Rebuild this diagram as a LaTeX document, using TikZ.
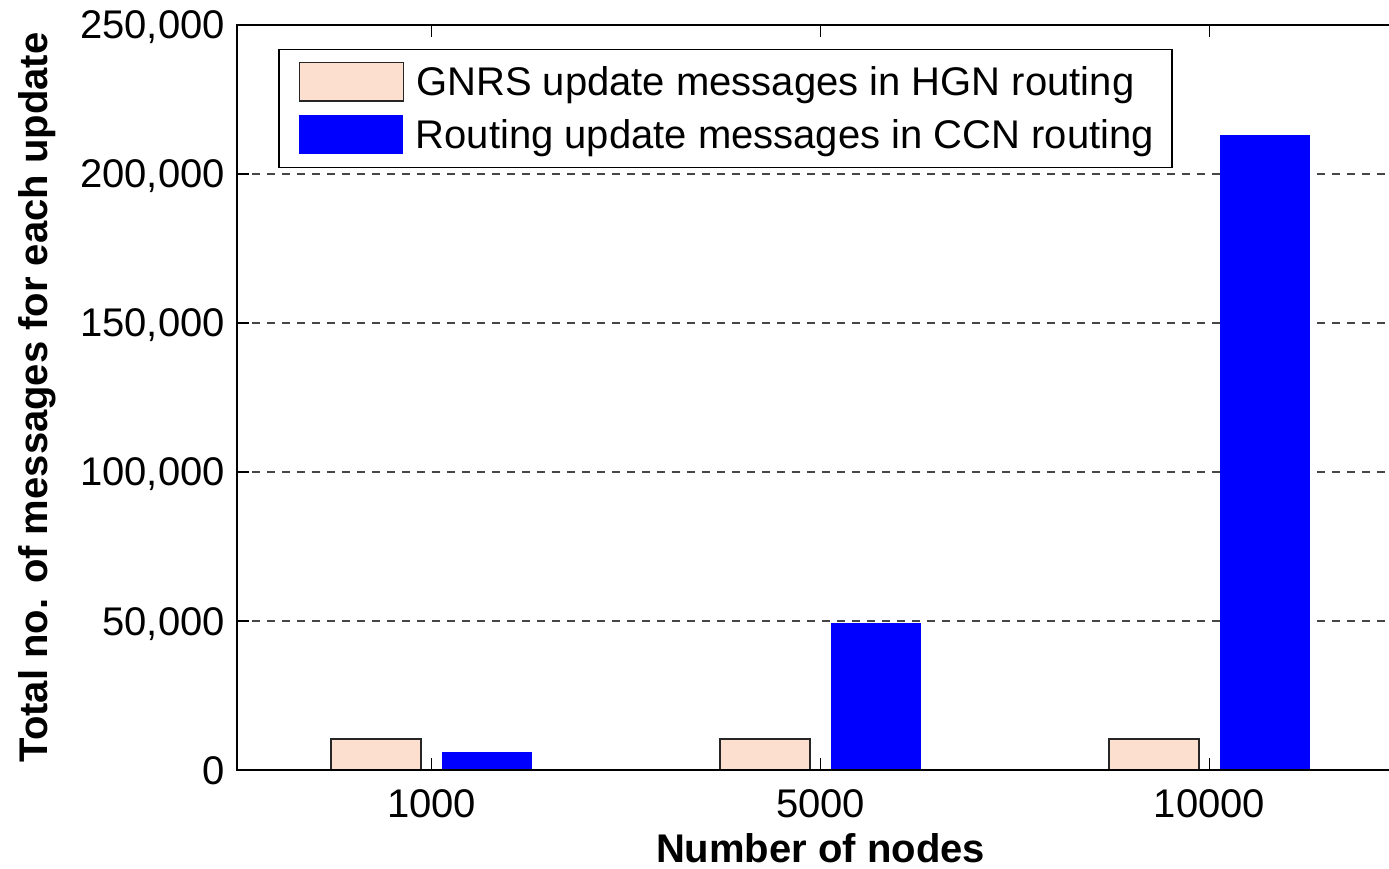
\documentclass[tikz,border=0pt]{standalone}
\usepackage{fontspec}
\setmainfont{Liberation Sans}
\usetikzlibrary{positioning}
\definecolor{peach}{RGB}{252,223,207}
\definecolor{gridgray}{RGB}{70,70,70}
\tikzset{axis line/.style={line width=2pt},
         grid line/.style={gridgray,line width=1.5pt,dash pattern=on 8pt off 7pt},
         tick mark/.style={line width=1.5pt},
         gnrs bar/.style={fill=peach,draw=black!85,line width=1.5pt},
         tick label/.style={font=\fontsize{40}{48}\selectfont,inner sep=0pt},
         axis label/.style={font=\fontsize{40}{48}\selectfont\bfseries,inner sep=0pt},
         legend box/.style={draw,fill=white,line width=1.5pt,minimum width=893pt,minimum height=118.4pt,inner sep=0pt},
         swatch/.style={minimum width=104pt,minimum height=38.5pt,inner sep=0pt},
         key text/.style={font=\fontsize{40}{48}\selectfont,inner sep=0pt,yshift=-3.9pt},
            }

\begin{document}
\begin{tikzpicture}[x=389pt,y=2.98pt]
    \useasboundingbox (-42.5pt,-98pt) rectangle (1346.5pt,770pt);

    % grid
    \foreach \v in {50,100,150,200}
        \draw[grid line] (0.5,\v) -- (3.47,\v);

    % bars
    \foreach \g/\h in {1/6,2/49.4,3/213}{
        \draw[gnrs bar] (\g-0.2584,0) rectangle (\g-0.027,10.4);
        \fill[blue] (\g+0.027,0) rectangle (\g+0.2584,\h);
    }

    % axes and ticks
    \draw[axis line] (3.47,250) -- (0.5,250) -- (0.5,0) -- (3.47,0);
    \foreach \v/\lab in {0/0,50/{50,000},100/{100,000},150/{150,000},200/{200,000},250/{250,000}}{
        \draw[tick mark] (0.5,\v) -- ++(12pt,0);
        \node[tick label,anchor=base east,xshift=-12pt,yshift=-14pt] at (0.5,\v) {\lab};
    }
    \foreach \g/\n in {1/1000,2/5000,3/10000}{
        \draw[tick mark] (\g,0) -- ++(0,12pt);
        \draw[tick mark] (\g,250) -- ++(0,-12pt);
        \node[tick label,anchor=base,yshift=-47pt] at (\g,0) {\n};
    }

    \node[axis label,anchor=base] (xlabel) at (778pt,-92.5pt) {Number of nodes};
    \node[axis label,rotate=90,anchor=base] (ylabel) at (5.5pt,372.5pt) {Total no. of messages for each update};

    % legend
    \node[legend box] (legend) at (683pt,661.5pt) {};
    \node[swatch,gnrs bar,below right=13pt and 20.3pt of legend.north west] (gnrs key) {};
    \node[swatch,fill=blue,below=13.3pt of gnrs key] (ccn key) {};
    \node[key text,right=12pt of gnrs key] (gnrs text) {GNRS update messages in HGN routing};
    \node[key text,right=12pt of ccn key] (ccn text) {Routing update messages in CCN routing};

\end{tikzpicture}
\end{document}
